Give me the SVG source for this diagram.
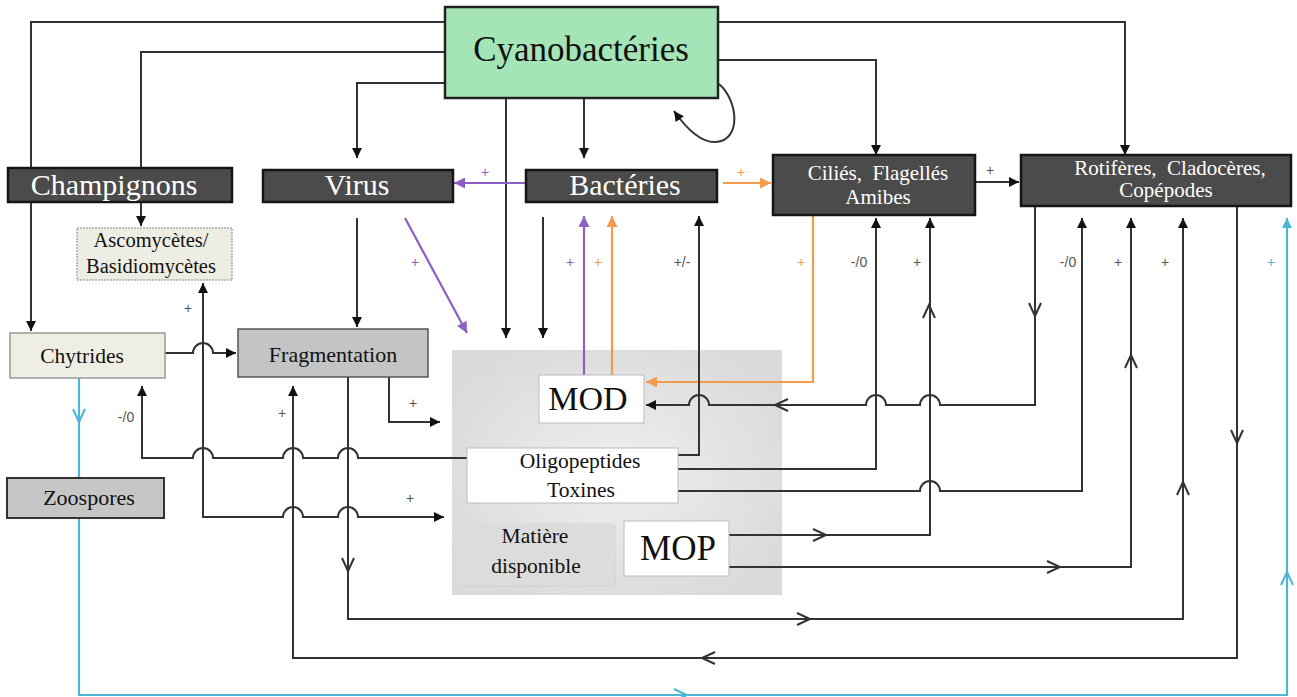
<svg xmlns="http://www.w3.org/2000/svg" width="1297" height="697" viewBox="0 0 1297 697">
<style>
.ser{font-family:"Liberation Serif","Times New Roman",serif;text-anchor:middle}
.w{fill:#ffffff}
.k{fill:#111111}
.lbl{font-family:"Liberation Sans",Arial,sans-serif;font-size:14px;fill:#555555;text-anchor:middle}
.ln{fill:none;stroke:#333333;stroke-width:2}
.pu{fill:none;stroke:#8b5fc4;stroke-width:2.2}
.or{fill:none;stroke:#f39a4c;stroke-width:2.2}
.cy{fill:none;stroke:#4db6d4;stroke-width:2.2}
.dark{fill:#4b4b4b;stroke:#151515;stroke-width:2.5}
.open{fill:none;stroke:#333333;stroke-width:2}
.openc{fill:none;stroke:#4db6d4;stroke-width:2}
</style>
<defs>
<marker id="ak" viewBox="0 0 10 10" refX="10" refY="5" markerWidth="11" markerHeight="10" markerUnits="userSpaceOnUse" orient="auto-start-reverse"><path d="M0,0 L10,5 L0,10 z" fill="#111"/></marker>
<marker id="ap" viewBox="0 0 10 10" refX="10" refY="5" markerWidth="12" markerHeight="11" markerUnits="userSpaceOnUse" orient="auto"><path d="M0,0 L10,5 L0,10 z" fill="#8b5fc4"/></marker>
<marker id="ao" viewBox="0 0 10 10" refX="10" refY="5" markerWidth="12" markerHeight="11" markerUnits="userSpaceOnUse" orient="auto"><path d="M0,0 L10,5 L0,10 z" fill="#f39a4c"/></marker>
<marker id="ac" viewBox="0 0 10 10" refX="10" refY="5" markerWidth="11" markerHeight="10" markerUnits="userSpaceOnUse" orient="auto"><path d="M0,0 L10,5 L0,10 z" fill="#4db6d4"/></marker>
<radialGradient id="bg" cx="0.5" cy="0.5" r="0.6"><stop offset="0" stop-color="#efefef"/><stop offset="1" stop-color="#dadada"/></radialGradient>
</defs>

<rect id="zone" x="452" y="350" width="330" height="245" fill="url(#bg)"/>

<g id="connectors">
<path class="ln" d="M445,22 H31 V331" marker-end="url(#ak)"/>
<path class="ln" d="M445,52 H141 V226" marker-end="url(#ak)"/>
<path class="ln" d="M445,83 H357 V158" marker-end="url(#ak)"/>
<path class="ln" d="M506,98 V338" marker-end="url(#ak)"/>
<path class="ln" d="M584,98 V158" marker-end="url(#ak)"/>
<path class="ln" d="M718,22 H1125 V155" marker-end="url(#ak)"/>
<path class="ln" d="M718,60 H876 V155" marker-end="url(#ak)"/>
<path class="ln" d="M719,84 C738,100 742,140 716,142 C700,143 686,128 674,111" marker-end="url(#ak)"/>
<path class="pu" d="M526,183 H454" marker-end="url(#ap)"/>
<path class="or" d="M723,183 H771" marker-end="url(#ao)"/>
<path class="ln" d="M975,182 H1019" marker-end="url(#ak)"/>
<path class="pu" d="M405,218 L467,333" marker-end="url(#ap)"/>
<path class="ln" d="M357,218 V327" marker-end="url(#ak)"/>
<path class="ln" d="M543,217 V338" marker-end="url(#ak)"/>
<path class="pu" d="M584,375 V216" marker-end="url(#ap)"/>
<path class="or" d="M612,375 V216" marker-end="url(#ao)"/>
<path class="or" d="M813,215 V382 H646" marker-end="url(#ao)"/>
<path class="ln" d="M165,353 H193 A10,10 0 0 1 213,353 H236" marker-end="url(#ak)"/>
<path class="ln" d="M467,458 H358 A10,10 0 0 0 338,458 H303 A10,10 0 0 0 283,458 H213 A10,10 0 0 0 193,458 H142 V386" marker-end="url(#ak)"/>
<path class="ln" d="M203,283 V517 H283 A10,10 0 0 1 303,517 H338 A10,10 0 0 1 358,517 H444" marker-start="url(#ak)" marker-end="url(#ak)"/>
<path class="ln" d="M389,377 V422 H440" marker-end="url(#ak)"/>
<path class="ln" d="M348,377 V619 H1183 V218" marker-end="url(#ak)"/>
<path class="ln" d="M1237,206 V658 H293 V386" marker-end="url(#ak)"/>
<path class="ln" d="M1035,206 V405 H940 A10,10 0 0 0 920,405 H886 A10,10 0 0 0 866,405 H709 A10,10 0 0 0 689,405 H646" marker-end="url(#ak)"/>
<path class="ln" d="M678,455 H699 V216" marker-end="url(#ak)"/>
<path class="ln" d="M678,469 H876 V218" marker-end="url(#ak)"/>
<path class="ln" d="M678,491 H920 A10,10 0 0 1 940,491 H1082 V218" marker-end="url(#ak)"/>
<path class="ln" d="M729,535 H930 V218" marker-end="url(#ak)"/>
<path class="ln" d="M729,567 H1131 V218" marker-end="url(#ak)"/>
<path class="cy" d="M79,378 V695 H1287 V218" marker-end="url(#ac)"/>
<path class="open" d="M1029,303 L1035,316 L1041,303"/>
<path class="open" d="M788,399 L775,405 L788,411"/>
<path class="open" d="M923,318 L929,305 L935,318"/>
<path class="open" d="M1125,368 L1131,355 L1137,368"/>
<path class="open" d="M1231,430 L1237,443 L1243,430"/>
<path class="open" d="M813,529 L826,535 L813,541"/>
<path class="open" d="M1047,561 L1060,567 L1047,573"/>
<path class="open" d="M342,558 L348,571 L354,558"/>
<path class="open" d="M797,613 L810,619 L797,625"/>
<path class="open" d="M1177,495 L1183,482 L1189,495"/>
<path class="open" d="M715,652 L702,658 L715,664"/>
<path class="openc" d="M73,409 L79,422 L85,409"/>
<path class="openc" d="M674,689 L687,695 L674,701"/>
<path class="openc" d="M1281,585 L1287,572 L1293,585"/>
</g>

<g id="labels">
<text class="lbl" x="485" y="177" style="fill:#8b5fc4">+</text>
<text class="lbl" x="741" y="177" style="fill:#f39a4c">+</text>
<text class="lbl" x="990" y="175">+</text>
<text class="lbl" x="415" y="267" style="fill:#8b5fc4">+</text>
<text class="lbl" x="570" y="267" style="fill:#8b5fc4">+</text>
<text class="lbl" x="598" y="267" style="fill:#f39a4c">+</text>
<text class="lbl" x="682" y="267">+/-</text>
<text class="lbl" x="801" y="267" style="fill:#f39a4c">+</text>
<text class="lbl" x="859" y="267">-/0</text>
<text class="lbl" x="917" y="267">+</text>
<text class="lbl" x="1068" y="267">-/0</text>
<text class="lbl" x="1118" y="267">+</text>
<text class="lbl" x="1165" y="267">+</text>
<text class="lbl" x="1271" y="267" style="fill:#4db6d4">+</text>
<text class="lbl" x="188" y="313">+</text>
<text class="lbl" x="126" y="422">-/0</text>
<text class="lbl" x="282" y="418">+</text>
<text class="lbl" x="413" y="408">+</text>
<text class="lbl" x="410" y="503">+</text>
</g>

<g id="cyanobacteries">
<rect x="445" y="7" width="273" height="91" fill="#a4e4b6" stroke="#222" stroke-width="2.5"/>
<text class="ser k" x="581" y="61" font-size="35">Cyanobactéries</text>
</g>
<g id="champignons">
<rect class="dark" x="8" y="168" width="224" height="34"/>
<text class="ser w" x="114" y="195" font-size="30">Champignons</text>
</g>
<g id="virus">
<rect class="dark" x="263" y="170" width="190" height="32"/>
<text class="ser w" x="357" y="195" font-size="30">Virus</text>
</g>
<g id="bacteries">
<rect class="dark" x="526" y="170" width="191" height="32"/>
<text class="ser w" x="625" y="195" font-size="30">Bactéries</text>
</g>
<g id="cilies">
<rect class="dark" x="773" y="155" width="202" height="60"/>
<text class="ser w" x="878" y="180" font-size="21" style="white-space:pre">Ciliés,  Flagellés</text>
<text class="ser w" x="878" y="204" font-size="21">Amibes</text>
</g>
<g id="rotiferes">
<rect class="dark" x="1021" y="155" width="270" height="51"/>
<text class="ser w" x="1170" y="175" font-size="21" style="white-space:pre">Rotifères,  Cladocères,</text>
<text class="ser w" x="1166" y="197" font-size="21">Copépodes</text>
</g>
<g id="ascomycetes">
<rect x="77" y="228" width="155" height="52" fill="#eeede3" stroke="#888" stroke-width="1" stroke-dasharray="2,1"/>
<text class="ser k" x="151" y="247" font-size="20.5">Ascomycètes/</text>
<text class="ser k" x="151" y="273" font-size="20.5">Basidiomycètes</text>
</g>
<g id="chytrides">
<rect x="10" y="333" width="155" height="45" fill="#efeee4" stroke="#999" stroke-width="1.5"/>
<text class="ser k" x="82" y="363" font-size="21.5">Chytrides</text>
</g>
<g id="fragmentation">
<rect x="238" y="329" width="190" height="48" fill="#c4c4c4" stroke="#555" stroke-width="1.5"/>
<text class="ser k" x="333" y="362" font-size="22">Fragmentation</text>
</g>
<g id="zoospores">
<rect x="7" y="478" width="157" height="40" fill="#c6c6c6" stroke="#333" stroke-width="2"/>
<text class="ser k" x="89" y="505" font-size="22">Zoospores</text>
</g>
<g id="mod">
<rect x="539" y="375" width="105" height="48" fill="#ffffff" stroke="#bbb" stroke-width="1"/>
<text class="ser k" x="588" y="410" font-size="34">MOD</text>
</g>
<g id="oligopeptides">
<rect x="467" y="448" width="211" height="55" fill="#ffffff" stroke="#bbb" stroke-width="1"/>
<text class="ser k" x="580" y="468" font-size="21.5">Oligopeptides</text>
<text class="ser k" x="581" y="497" font-size="21.5">Toxines</text>
</g>
<g id="matiere">
<rect x="457" y="525" width="159" height="62" fill="#cfcfcf" opacity="0.5"/>
<rect x="455" y="523" width="159" height="62" fill="#dcdcdc"/>
<text class="ser k" x="535" y="543" font-size="21.5">Matière</text>
<text class="ser k" x="536" y="573" font-size="21.5">disponible</text>
</g>
<g id="mop">
<rect x="624" y="521" width="105" height="55" fill="#ffffff" stroke="#bbb" stroke-width="1"/>
<text class="ser k" x="678" y="560" font-size="35">MOP</text>
</g>
</svg>
